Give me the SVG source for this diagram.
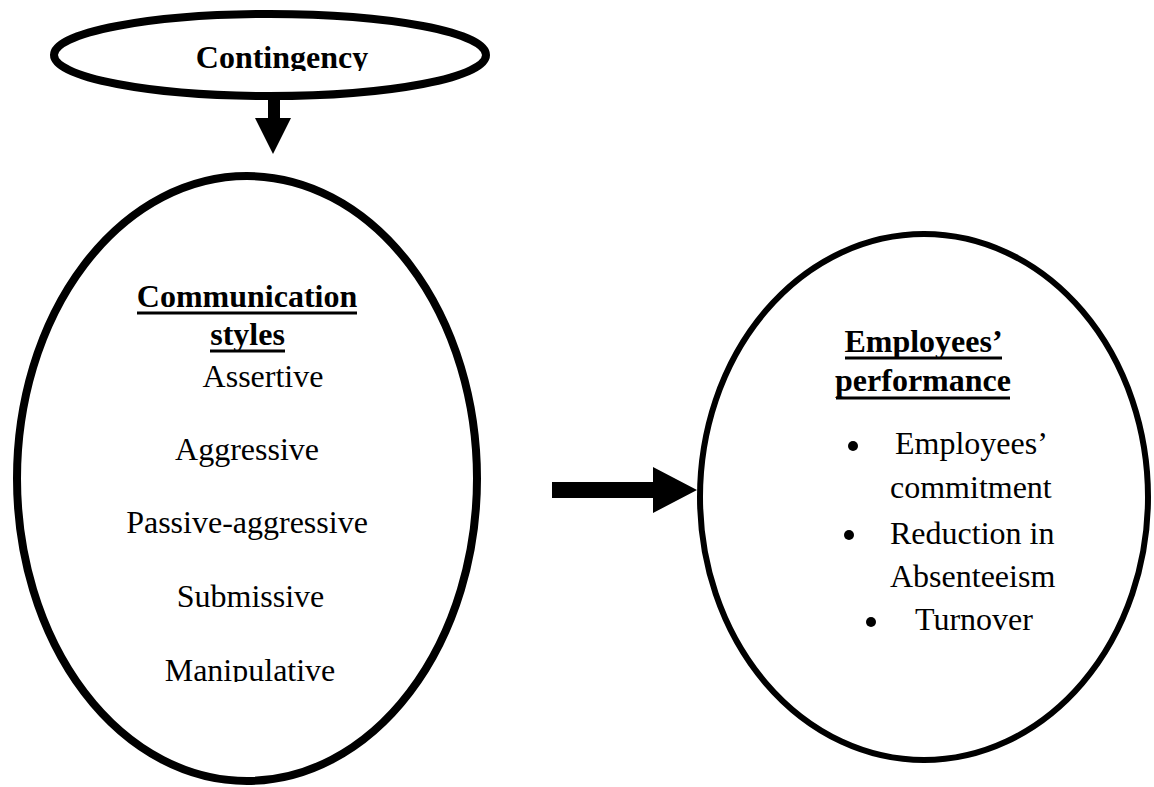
<svg xmlns="http://www.w3.org/2000/svg" width="1154" height="787" viewBox="0 0 1154 787">
<style>
.shape{fill:#fff;stroke:#000}
.t{font-family:"Liberation Serif","Times New Roman",serif;font-size:32px;fill:#000}
.b{font-weight:bold}
.m{text-anchor:middle}
.ul{stroke:#000;stroke-width:3}
.arrow{fill:#000;stroke:none}
</style>
<defs>
<clipPath id="clipTop"><rect x="0" y="0" width="1154" height="71"/></clipPath>
<clipPath id="clipManip"><rect x="0" y="600" width="1154" height="82"/></clipPath>
</defs>
<rect width="1154" height="787" fill="#fff"/>
<g id="contingency">
<ellipse class="shape" cx="270" cy="55" rx="216" ry="41" stroke-width="8"/>
<text class="t b m" x="282" y="68" clip-path="url(#clipTop)">Contingency</text>
</g>
<g id="communication-styles">
<ellipse class="shape" cx="247" cy="478.5" rx="230" ry="302.5" stroke-width="8"/>
<text class="t b m" x="247" y="307">Communication</text>
<line class="ul" x1="137" y1="313" x2="357" y2="313"/>
<text class="t b m" x="247.5" y="345">styles</text>
<line class="ul" x1="210" y1="351" x2="285" y2="351"/>
<text class="t m" x="263" y="387">Assertive</text>
<text class="t m" x="247" y="460">Aggressive</text>
<text class="t m" x="247" y="533">Passive-aggressive</text>
<text class="t m" x="250.5" y="607">Submissive</text>
<text class="t m" x="250" y="681" clip-path="url(#clipManip)">Manipulative</text>
</g>
<g id="employees-performance">
<ellipse class="shape" cx="924" cy="497" rx="224" ry="263" stroke-width="6"/>
<text class="t b m" x="923.5" y="352">Employees’</text>
<line class="ul" x1="845" y1="358" x2="1002" y2="358"/>
<text class="t b m" x="923" y="391">performance</text>
<line class="ul" x1="836" y1="398" x2="1010" y2="398"/>
<circle cx="853" cy="446" r="5"/>
<text class="t" x="895" y="454">Employees’</text>
<text class="t" x="890" y="498">commitment</text>
<circle cx="849" cy="535" r="5"/>
<text class="t" x="890" y="544">Reduction in</text>
<text class="t" x="890" y="587">Absenteeism</text>
<circle cx="871" cy="622" r="5"/>
<text class="t" x="915" y="630">Turnover</text>
</g>
<g id="connectors">
<polygon class="arrow" points="268,99 280,99 280,118 291,118 273,154 255,118 268,118"/>
<polygon class="arrow" points="552,482 653,482 653,467 697,490 653,513 653,498 552,498"/>
</g>
</svg>
